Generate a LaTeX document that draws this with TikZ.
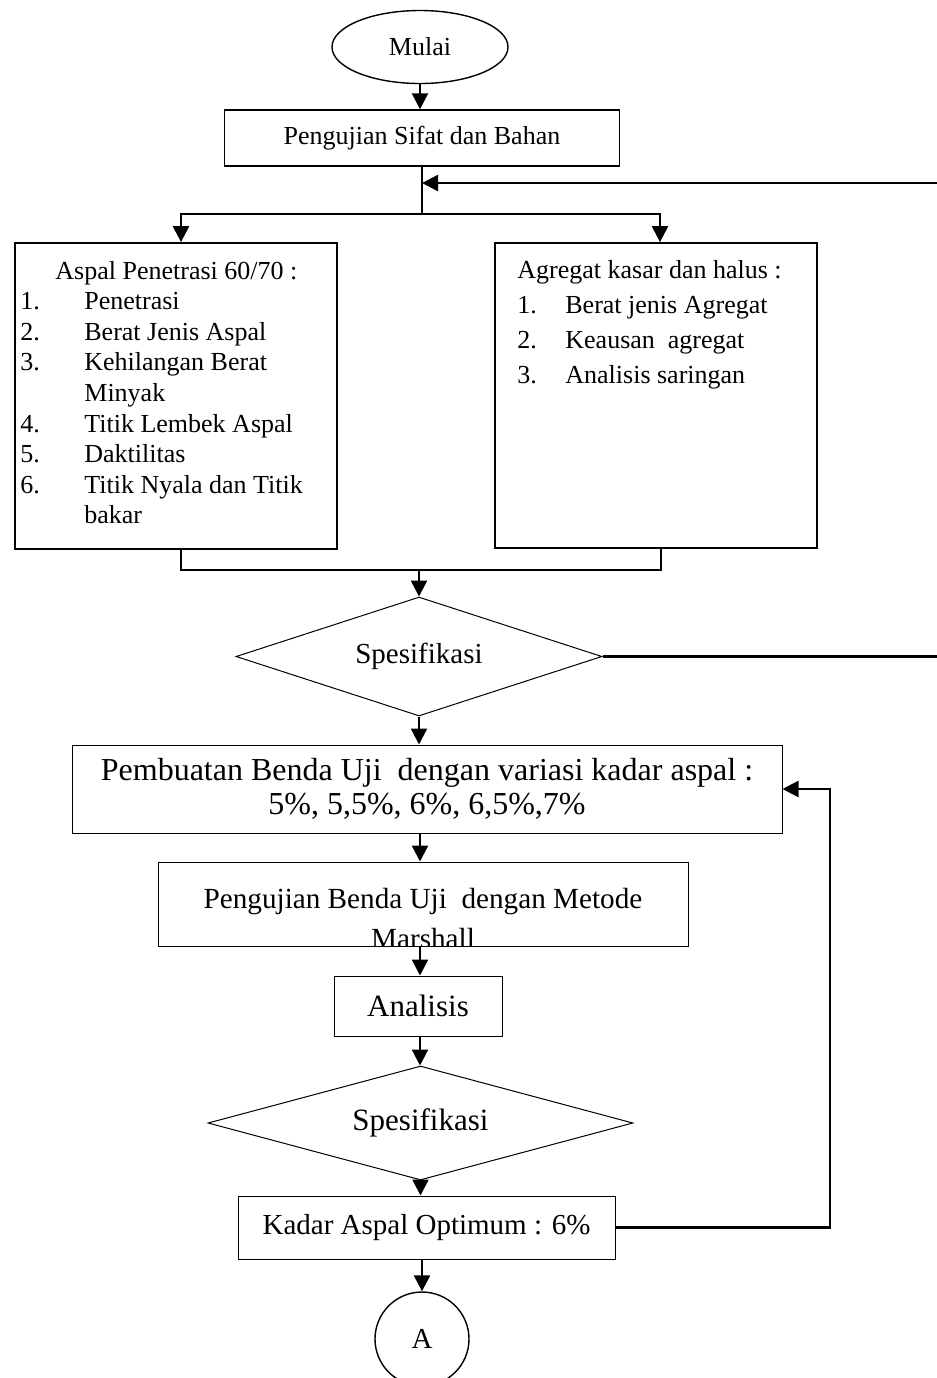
\documentclass[tikz,border=0pt]{standalone}
\usepackage{fontspec}
\setmainfont{Liberation Serif}
\usepackage{tikz}
\usetikzlibrary{shapes.geometric, arrows.meta}

\begin{document}
\begin{tikzpicture}[x=0.5pt, y=-0.5pt,
    box/.style={draw, rectangle, line width=0.7pt, inner sep=0pt},
    choice/.style={draw, diamond, aspect=3, line width=0.5pt, inner sep=0pt},
    link/.style={line width=1.2pt},
    arr/.style={line width=1.2pt, -{Triangle[length=8pt, width=8pt]}}]
    \useasboundingbox (0, 0) rectangle (937, 1378);

    \node[draw, ellipse, line width=0.7pt, minimum width=88pt, minimum height=36.5pt, font=\fontsize{13}{15}\selectfont] (mulai) at (420, 47) {Mulai};
    \node[box, minimum width=197.5pt, minimum height=28pt, font=\fontsize{13}{15}\selectfont] (uji) at (422, 138) {Pengujian Sifat dan Bahan};

    \node[box, line width=0.9pt, minimum width=161pt, minimum height=153pt] (aspal) at (176, 396) {};
    \node[box, line width=0.9pt, minimum width=161pt, minimum height=152.5pt] (agregat) at (656, 395.5) {};
    \node[anchor=base west, inner sep=0pt, font=\fontsize{13}{15.3}\selectfont] (aspaltext) at (20, 279) {%
        \begin{tabular}[t]{@{}p{32pt}@{}p{124pt}@{}}
            \multicolumn{2}{@{}c@{}}{Aspal Penetrasi 60/70 :}\\
            1. & Penetrasi\\
            2. & Berat Jenis Aspal\\
            3. & Kehilangan Berat\\
               & Minyak\\
            4. & Titik Lembek Aspal\\
            5. & Daktilitas\\
            6. & Titik Nyala dan Titik\\
               & bakar
        \end{tabular}};
    \node[anchor=base west, inner sep=0pt, font=\fontsize{13}{17.5}\selectfont] (agregattext) at (517, 278) {%
        \begin{tabular}[t]{@{}p{24pt}@{}l@{}}
            \multicolumn{2}{@{}l@{}}{Agregat kasar dan halus :}\\
            1. & Berat jenis Agregat\\
            2. & Keausan\ \ agregat\\
            3. & Analisis saringan
        \end{tabular}};

    \node[choice, minimum width=183pt, minimum height=59.5pt, font=\fontsize{14.5}{16}\selectfont] (spek1) at (419, 656.5) {Spesifikasi};

    \node[box, line width=0.5pt, minimum width=355pt, minimum height=44pt, align=center, font=\fontsize{16}{17}\selectfont] (pembuatan) at (427, 789) {Pembuatan Benda Uji\ \ dengan variasi kadar aspal :\\5\%, 5,5\%, 6\%, 6,5\%,7\%};

    \node[box, line width=0.5pt, minimum width=265pt, minimum height=42pt] (marshall) at (423, 904) {};
    \begin{scope}
        \clip (marshall.south west) rectangle (marshall.north east);
        \node[anchor=base, font=\fontsize{14.6}{16}\selectfont] (marshalla) at (423, 908) {Pengujian Benda Uji\ \ dengan Metode};
        \node[anchor=base, font=\fontsize{14.6}{16}\selectfont] (marshallb) at (423, 948) {Marshall};
    \end{scope}

    \node[box, line width=0.5pt, minimum width=84pt, minimum height=30pt, font=\fontsize{15.5}{17}\selectfont] (analisis) at (418, 1006) {Analisis};
    \node[choice, minimum width=212.5pt, minimum height=57pt, font=\fontsize{15.5}{17}\selectfont] (spek2) at (420.5, 1123) {Spesifikasi};
    \node[box, line width=0.5pt, minimum width=188.5pt, minimum height=31.5pt, font=\fontsize{14.5}{16}\selectfont] (kadar) at (426.5, 1227.5) {Kadar Aspal Optimum : 6\%};
    \node[draw, circle, line width=0.7pt, minimum size=47pt, inner sep=0pt, font=\fontsize{14.5}{16}\selectfont] (akhir) at (422, 1339) {A};

    % alur utama
    \draw[arr] (mulai.south) -- (mulai.south |- uji.north);
    \path (uji.south) ++(0, 47) coordinate (split);
    \draw[link] (uji.south) -- (split);
    \draw[arr] (split) -| ([xshift=2.5pt]aspal.north);
    \draw[arr] (split) -| ([xshift=2pt]agregat.north);
    \coordinate (balik) at (937, 183);
    \draw[arr] (balik) -- (balik -| uji.south);

    \coordinate (gabung) at (419, 570);
    \draw[link] ([xshift=2.5pt]aspal.south) |- (gabung) -| ([xshift=2.5pt]agregat.south);
    \draw[arr] (gabung) -- (spek1.north);
    \coordinate (tolak) at (937, 656.5);
    \draw[link] (spek1.east) -- (tolak);

    \draw[arr] (spek1.south) -- (spek1.south |- pembuatan.north);
    \draw[arr] (pembuatan.south -| 420, 0) -- (marshall.north -| 420, 0);
    \draw[arr] (marshall.south -| 420, 0) -- (analisis.north -| 420, 0);
    \draw[arr] (analisis.south -| 420, 0) -- (spek2.north -| 420, 0);
    \draw[arr] (spek2.south) -- (spek2.south |- kadar.north);
    \draw[arr] (kadar.south -| akhir.north) -- (akhir.north);

    % ulang
    \coordinate (ulang) at (830, 1227.5);
    \draw[arr] (kadar.east) -- (ulang) |- (pembuatan.east);
\end{tikzpicture}
\end{document}
